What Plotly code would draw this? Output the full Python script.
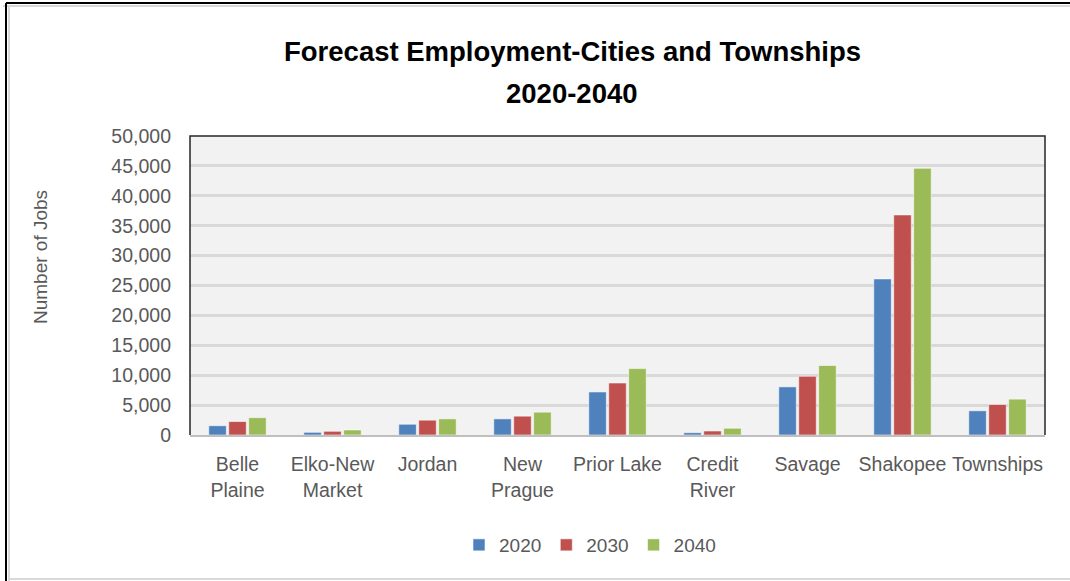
import plotly.graph_objects as go

# Forecast employment by city / township
places = ["Belle<br>Plaine", "Elko-New<br>Market", "Jordan", "New<br>Prague", "Prior Lake",
          "Credit<br>River", "Savage", "Shakopee", "Townships"]
jobs_2020 = [1550, 450, 1800, 2700, 7200, 390, 8050, 26100, 4050]
jobs_2030 = [2250, 620, 2480, 3150, 8700, 670, 9820, 36800, 5100]
jobs_2040 = [2900, 840, 2700, 3820, 11100, 1130, 11620, 44600, 6000]
series_names = ["2020", "2030", "2040"]
series_colors = ["#4F81BD", "#C0504D", "#9BBB59"]

FONT = "Liberation Sans, Arial, sans-serif"
GREY = "#595959"

fig = go.Figure()
for name, vals, col in zip(series_names, [jobs_2020, jobs_2030, jobs_2040], series_colors):
    fig.add_trace(go.Bar(
        x=places, y=vals, name=name,
        marker=dict(color=col, line=dict(color="rgba(255,255,255,0.55)", width=1)),
    ))

# plot area in pixels: x 190..1045, y 136..435
L, R, T, B = 190, 1045, 136, 435
W, H = R - L, B - T


def px(x):
    return (x - L) / W


def py(y):
    return (B - y) / H


fig.update_layout(
    width=1070, height=581,
    margin=dict(l=L, r=1070 - R, t=T, b=581 - B),
    paper_bgcolor="white",
    plot_bgcolor="#F2F2F2",
    barmode="group",
    bargap=0.37,
    bargroupgap=0.12,
    font=dict(family=FONT, color=GREY, size=19),
    showlegend=True,
    legend=dict(orientation="h", x=px(590), xanchor="center", y=py(545), yanchor="middle",
                font=dict(size=19, color=GREY), itemwidth=30, traceorder="normal"),
    xaxis=dict(showgrid=False, showline=True, linecolor="#BFBFBF", linewidth=2,
               ticks="", tickfont=dict(size=19.5, color=GREY), ticklabelstandoff=11),
    yaxis=dict(range=[0, 50000], dtick=5000, tickformat=",", showgrid=True,
               gridcolor="#D9D9D9", gridwidth=3, zeroline=False, showline=False,
               ticks="", tickfont=dict(size=19.5, color=GREY), ticklabelstandoff=18),
)

# plot-area frame (left, top, right)
fig.add_shape(type="path", xref="paper", yref="paper",
              path="M 0 0 L 0 1 L 1 1 L 1 0",
              line=dict(color="#262626", width=1.5), layer="above")

# outer chart frame
fig.add_shape(type="line", xref="paper", yref="paper", x0=px(6), x1=px(1070), y0=py(3), y1=py(3),
              line=dict(color="#000000", width=2))
fig.add_shape(type="line", xref="paper", yref="paper", x0=px(3), x1=px(1070), y0=py(6), y1=py(6),
              line=dict(color="#D9D9D9", width=2))
fig.add_shape(type="line", xref="paper", yref="paper", x0=px(6), x1=px(6), y0=py(3), y1=py(581),
              line=dict(color="#000000", width=2))
fig.add_shape(type="line", xref="paper", yref="paper", x0=px(9), x1=px(9), y0=py(6), y1=py(581),
              line=dict(color="#D9D9D9", width=2))
fig.add_shape(type="line", xref="paper", yref="paper", x0=px(9), x1=px(1070), y0=py(579), y1=py(579),
              line=dict(color="#D9D9D9", width=2))

# title lines
fig.add_annotation(text="<b>Forecast Employment-Cities and Townships</b>", xref="paper", yref="paper",
                   x=px(572), y=py(52), xanchor="center", yanchor="middle", showarrow=False,
                   font=dict(family=FONT, size=27.5, color="#000000"))
fig.add_annotation(text="<b>2020-2040</b>", xref="paper", yref="paper",
                   x=px(572), y=py(93), xanchor="center", yanchor="middle", showarrow=False,
                   font=dict(family=FONT, size=27.5, color="#000000"))

# y-axis title
fig.add_annotation(text="Number of Jobs", xref="paper", yref="paper",
                   x=px(40), y=py(257), xanchor="center", yanchor="middle", showarrow=False,
                   textangle=-90, font=dict(family=FONT, size=19, color=GREY))

fig.write_html("out.html")
